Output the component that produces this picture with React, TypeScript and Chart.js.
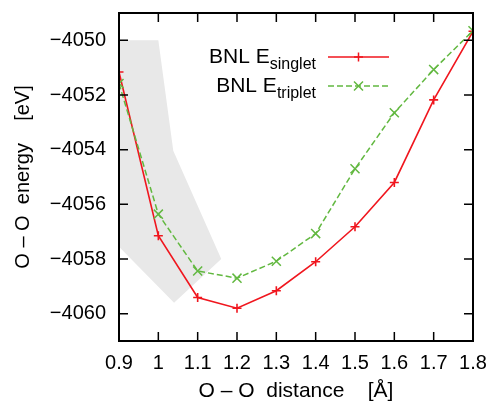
import React, { useEffect, useRef } from "react";
import { Chart, registerables } from "chart.js";

Chart.register(...registerables);

const distances = [0.9, 1.0, 1.1, 1.2, 1.3, 1.4, 1.5, 1.6, 1.7, 1.8];
const singlet = [-4051.16, -4057.15, -4059.41, -4059.8, -4059.16, -4058.1, -4056.82, -4055.2, -4052.18, -4049.67];
const triplet = [-4051.58, -4056.36, -4058.44, -4058.7, -4058.08, -4057.07, -4054.7, -4052.65, -4051.07, -4049.65];
const bandX = [0.9, 1.0, 1.038, 1.16, 1.04, 0.9];
const bandY = [-4050, -4050, -4054.04, -4058.0, -4059.6, -4057.55];
const xTicks = [0.9, 1.0, 1.1, 1.2, 1.3, 1.4, 1.5, 1.6, 1.7, 1.8];
const yTicks = [-4060, -4058, -4056, -4054, -4052, -4050];
const seriesNames = [
  { main: "BNL E", sub: "singlet" },
  { main: "BNL E", sub: "triplet" },
];

const RED = "rgb(240,22,30)";
const GREEN = "rgb(98,184,64)";
const FONT = "'Liberation Sans', Arial, Helvetica, sans-serif";

const zeroPad = (s: any) => {
  s.paddingTop = 0;
  s.paddingBottom = 0;
  s.paddingLeft = 0;
  s.paddingRight = 0;
};

export default function App() {
  const ref = useRef<HTMLCanvasElement | null>(null);
  useEffect(() => {
    if (!ref.current) return;
    const framePlugin = {
      id: "frame",
      afterDraw(chart: any) {
        const { ctx, chartArea: a, scales } = chart;
        const xs = scales.x;
        const ys = scales.y;
        ctx.save();
        ctx.strokeStyle = "#000";
        ctx.lineWidth = 1.5;
        const L = 9;
        ctx.beginPath();
        xTicks.forEach((v) => {
          const px = xs.getPixelForValue(v);
          ctx.moveTo(px, a.bottom);
          ctx.lineTo(px, a.bottom - L);
          ctx.moveTo(px, a.top);
          ctx.lineTo(px, a.top + L);
        });
        yTicks.forEach((v) => {
          const py = ys.getPixelForValue(v);
          ctx.moveTo(a.left, py);
          ctx.lineTo(a.left + L, py);
          ctx.moveTo(a.right, py);
          ctx.lineTo(a.right - L, py);
        });
        ctx.stroke();
        ctx.lineWidth = 2;
        ctx.strokeRect(a.left, a.top, a.right - a.left, a.bottom - a.top);

        // legend
        const colors = [RED, GREEN];
        const rows = [a.top + 44, a.top + 73];
        const textRight = a.left + 197;
        const lineL = a.left + 209;
        const lineR = a.left + 270;
        seriesNames.forEach((s, i) => {
          const y = rows[i];
          ctx.fillStyle = "#000";
          ctx.textBaseline = "alphabetic";
          ctx.textAlign = "left";
          ctx.font = `16px ${FONT}`;
          const sw = ctx.measureText(s.sub).width;
          ctx.font = `21px ${FONT}`;
          const mw = ctx.measureText(s.main).width;
          const x0 = textRight - sw - mw;
          ctx.fillText(s.main, x0, y + 6);
          ctx.font = `16px ${FONT}`;
          ctx.fillText(s.sub, x0 + mw, y + 12);
          ctx.strokeStyle = colors[i];
          ctx.lineWidth = 1.5;
          ctx.setLineDash(i === 1 ? [6, 3] : []);
          ctx.beginPath();
          ctx.moveTo(lineL, y);
          ctx.lineTo(lineR, y);
          ctx.stroke();
          ctx.setLineDash([]);
          const cx = (lineL + lineR) / 2;
          ctx.beginPath();
          if (i === 0) {
            ctx.moveTo(cx - 4.5, y);
            ctx.lineTo(cx + 4.5, y);
            ctx.moveTo(cx, y - 4.5);
            ctx.lineTo(cx, y + 4.5);
          } else {
            ctx.moveTo(cx - 4.5, y - 4.5);
            ctx.lineTo(cx + 4.5, y + 4.5);
            ctx.moveTo(cx - 4.5, y + 4.5);
            ctx.lineTo(cx + 4.5, y - 4.5);
          }
          ctx.stroke();
        });
        ctx.restore();
      },
    };

    const chart = new Chart(ref.current, {
      type: "line",
      data: {
        datasets: [
          {
            label: "band",
            data: bandX.map((x, i) => ({ x, y: bandY[i] })),
            backgroundColor: "rgb(232,232,232)",
            borderWidth: 0,
            borderColor: "rgba(0,0,0,0)",
            pointRadius: 0,
            fill: "shape",
            order: 3,
            tension: 0,
          },
          {
            label: "singlet",
            data: distances.map((x, i) => ({ x, y: singlet[i] })),
            borderColor: RED,
            backgroundColor: RED,
            borderWidth: 1.6,
            pointStyle: "cross",
            pointRadius: 4.5,
            pointBorderWidth: 1.6,
            pointBorderColor: RED,
            fill: false,
            order: 2,
          },
          {
            label: "triplet",
            data: distances.map((x, i) => ({ x, y: triplet[i] })),
            borderColor: GREEN,
            backgroundColor: GREEN,
            borderWidth: 1.5,
            borderDash: [6, 3],
            pointStyle: "crossRot",
            pointRadius: 6.4,
            pointBorderWidth: 1.5,
            pointBorderColor: GREEN,
            fill: false,
            order: 1,
          },
        ],
      },
      options: {
        animation: false,
        responsive: false,
        layout: { padding: { top: 13, right: 18, left: 0, bottom: 0 } },
        plugins: { legend: { display: false }, tooltip: { enabled: false } },
        scales: {
          x: {
            type: "linear",
            min: 0.9,
            max: 1.8,
            grid: { display: false, drawTicks: false },
            border: { display: false },
            afterBuildTicks: (s: any) => {
              s.ticks = xTicks.map((v) => ({ value: v }));
            },
            afterFit: (s: any) => {
              s.height = 63;
              zeroPad(s);
            },
            ticks: {
              autoSkip: false,
              maxRotation: 0,
              padding: 10,
              color: "#000",
              font: { family: FONT, size: 20 },
              callback: (v: any) => String(Math.round(Number(v) * 10) / 10),
            },
            title: {
              display: true,
              text: "O – O  distance    [Å]",
              color: "#000",
              font: { family: FONT, size: 21 },
              padding: { top: 0, bottom: 0 },
            },
          },
          y: {
            type: "linear",
            min: -4061,
            max: -4049,
            grid: { display: false, drawTicks: false },
            border: { display: false },
            afterBuildTicks: (s: any) => {
              s.ticks = yTicks.map((v) => ({ value: v }));
            },
            afterFit: (s: any) => {
              s.width = 119;
              zeroPad(s);
            },
            ticks: {
              autoSkip: false,
              padding: 13,
              color: "#000",
              font: { family: FONT, size: 20 },
              callback: (v: any) => (Number(v) < 0 ? "\u2212" : "") + Math.abs(Number(v)),
            },
            title: {
              display: true,
              text: "O – O  energy    [eV]",
              color: "#000",
              font: { family: FONT, size: 20 },
              padding: { top: 11, bottom: 0 },
            },
          },
        },
      },
      plugins: [framePlugin],
    } as any);
    return () => chart.destroy();
  }, []);

  return (
    <div style={{ position: "absolute", left: 0, top: 0, width: 491, height: 404, background: "#fff" }}>
      <canvas ref={ref} width={491} height={404} style={{ width: 491, height: 404, display: "block" }} />
    </div>
  );
}
